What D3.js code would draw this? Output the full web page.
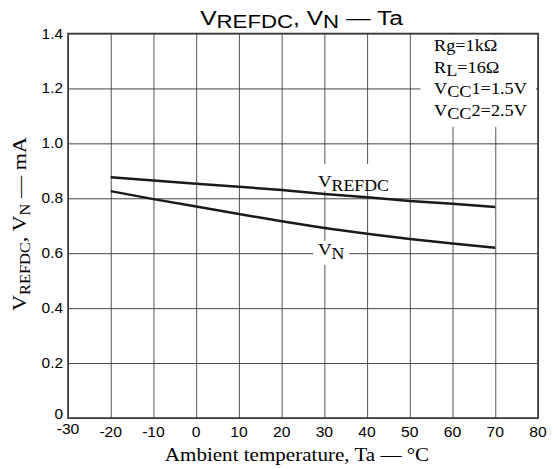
<!DOCTYPE html>
<html>
<head>
<meta charset="utf-8">
<script src="https://cdn.jsdelivr.net/npm/d3@7/dist/d3.min.js"></script>
<style>
  body { margin: 0; background: #fff; }
  svg { display: block; }
</style>
</head>
<body>
<div id="chart"></div>
<script>
// temperature points (°C) and the two curves (mA)
var temps = [-20, -10, 0, 10, 20, 30, 40, 50, 60, 70];
var vrefdc = [0.877, 0.865, 0.853, 0.842, 0.830, 0.816, 0.804, 0.790, 0.780, 0.768];
var vn = [0.826, 0.797, 0.770, 0.743, 0.716, 0.692, 0.671, 0.652, 0.635, 0.620];

var xTicks = [-30, -20, -10, 0, 10, 20, 30, 40, 50, 60, 70, 80];
var yTicks = [0, 0.2, 0.4, 0.6, 0.8, 1.0, 1.2, 1.4];
var yTickLabels = ["0", "0.2", "0.4", "0.6", "0.8", "1.0", "1.2", "1.4"];

var width = 558;
var height = 469;
var plotL = 68, plotR = 538, plotT = 33.5, plotB = 418;
var sans = "Liberation Sans, Arial, sans-serif";
var serif = "Liberation Serif, Times New Roman, serif";
var stretch = 1.17; // the original lettering is a bit wider than the fonts here

var x = d3.scaleLinear().domain([-30, 80]).range([plotL, plotR]);
var y = d3.scaleLinear().domain([0, 1.4]).range([plotB, plotT]);

var svg = d3.select("#chart").append("svg")
  .attr("width", width)
  .attr("height", height);

// text placed at (tx,ty), widened along its own direction
function wideText(tx, ty, rot, sx){
  return svg.append("text")
    .attr("transform", "translate(" + tx + "," + ty + ") rotate(" + rot + ") scale(" + sx + ",1)");
}

// grid
svg.append("g")
  .attr("transform", "translate(0," + plotB + ")")
  .call(d3.axisBottom(x).tickValues(xTicks).tickSize(-(plotB - plotT)).tickFormat(""))
  .call(function(g){
    g.select(".domain").remove();
    g.selectAll("line").attr("stroke", "#555").attr("stroke-width", 1);
  });

svg.append("g")
  .attr("transform", "translate(" + plotL + ",0)")
  .call(d3.axisLeft(y).tickValues(yTicks).tickSize(-(plotR - plotL)).tickFormat(""))
  .call(function(g){
    g.select(".domain").remove();
    g.selectAll("line").attr("stroke", "#444").attr("stroke-width", 1);
  });

// white boxes behind the annotations break the grid
svg.append("rect").attr("x", x(52.5)).attr("y", plotT + 1.5)
  .attr("width", plotR - x(52.5) - 2).attr("height", y(1.06) - plotT - 1.5)
  .attr("fill", "#fff");
svg.append("rect").attr("x", x(27.6)).attr("y", y(0.925))
  .attr("width", 78).attr("height", 27).attr("fill", "#fff");
svg.append("rect").attr("x", x(27.4)).attr("y", y(0.645))
  .attr("width", 36).attr("height", 24).attr("fill", "#fff");

// frame
svg.append("rect")
  .attr("x", plotL).attr("y", plotT)
  .attr("width", plotR - plotL).attr("height", plotB - plotT)
  .attr("fill", "none").attr("stroke", "#333").attr("stroke-width", 1.5);

// curves
var line = d3.line()
  .x(function(d){ return x(d[0]); })
  .y(function(d){ return y(d[1]); });

[vrefdc, vn].forEach(function(series){
  svg.append("path")
    .datum(temps.map(function(t, i){ return [t, series[i]]; }))
    .attr("d", line)
    .attr("fill", "none")
    .attr("stroke", "#1a1a1a")
    .attr("stroke-width", 2.5);
});

// tick labels
xTicks.forEach(function(d){
  wideText(x(d), d === -30 ? 434 : 437, 0, 1.12)
    .attr("text-anchor", "middle")
    .attr("font-family", sans)
    .attr("font-size", 14)
    .text(d);
});

yTicks.forEach(function(d, i){
  wideText(plotL - 5, y(d) + (d === 0 ? 1 : 5), 0, 1.1)
    .attr("text-anchor", "end")
    .attr("font-family", sans)
    .attr("font-size", 14)
    .text(yTickLabels[i]);
});

// title
var title = wideText(301.5, 25, 0, stretch)
  .attr("text-anchor", "middle")
  .attr("font-family", sans)
  .attr("font-size", 21);
title.append("tspan").text("V");
title.append("tspan").attr("dy", 3).attr("font-size", 19).text("REFDC");
title.append("tspan").attr("dy", -3).text(", V");
title.append("tspan").attr("dy", 3).attr("font-size", 19).text("N");
title.append("tspan").attr("dy", -3).text(" \u2014 Ta");

// axis titles
wideText(297, 461, 0, stretch)
  .attr("text-anchor", "middle")
  .attr("font-family", serif)
  .attr("font-size", 18)
  .text("Ambient temperature, Ta \u2014 \u00b0C");

var ylab = wideText(25.5, 224, -90, stretch)
  .attr("text-anchor", "middle")
  .attr("font-family", serif)
  .attr("font-size", 19);
ylab.append("tspan").text("V");
ylab.append("tspan").attr("dy", 4).attr("font-size", 14).text("REFDC");
ylab.append("tspan").attr("dy", -4).text(", V");
ylab.append("tspan").attr("dy", 4).attr("font-size", 14).text("N");
ylab.append("tspan").attr("dy", -4).text(" \u2014 mA");

// curve labels
var lab1 = wideText(x(28.5), y(0.84), 0, 1.11)
  .attr("font-family", serif).attr("font-size", 17);
lab1.append("tspan").text("V");
lab1.append("tspan").attr("dy", 4).attr("font-size", 16).text("REFDC");

var lab2 = wideText(x(28.5), y(0.6) + 2, 0, 1.11)
  .attr("font-family", serif).attr("font-size", 17);
lab2.append("tspan").text("V");
lab2.append("tspan").attr("dy", 4).attr("font-size", 16).text("N");

// conditions
var conds = [
  { main: "Rg=1k\u03a9" },
  { main: "R", sub: "L", rest: "=16\u03a9" },
  { main: "V", sub: "CC", rest: "1=1.5V" },
  { main: "V", sub: "CC", rest: "2=2.5V" }
];
conds.forEach(function(c, i){
  var t = wideText(434, 51 + i * 21.5, 0, 1.14)
    .attr("font-family", serif).attr("font-size", 16);
  t.append("tspan").text(c.main);
  if (c.sub) {
    t.append("tspan").attr("dy", 3).text(c.sub);
    t.append("tspan").attr("dy", -3).text(c.rest);
  }
});
</script>
</body>
</html>
